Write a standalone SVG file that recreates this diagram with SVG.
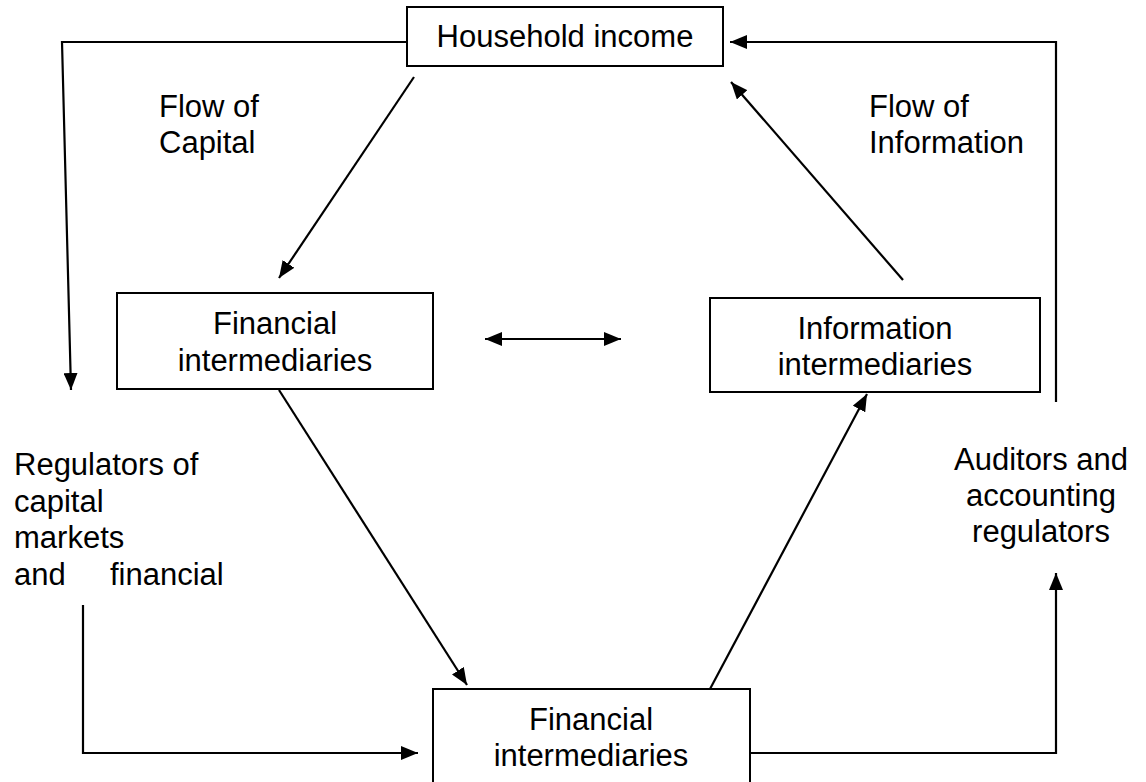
<svg xmlns="http://www.w3.org/2000/svg" width="1146" height="782" viewBox="0 0 1146 782">
  <style>
    .box { fill: #ffffff; stroke: #000000; stroke-width: 2; }
    .lbl { font-family: "Liberation Sans", Arial, sans-serif; font-size: 31px; fill: #000000; }
    .mid { text-anchor: middle; }
    .wire { fill: none; stroke: #000000; stroke-width: 2.2; }
  </style>
  <defs>
    <marker id="tip" viewBox="0 0 17 14" refX="17" refY="7" markerWidth="17" markerHeight="14" markerUnits="userSpaceOnUse" orient="auto-start-reverse">
      <path d="M0,0 L17,7 L0,14 z" fill="#000000"/>
    </marker>
  </defs>

  <rect width="1146" height="782" fill="#ffffff"/>

  <!-- connectors -->
  <g id="connectors">
    <polyline class="wire" points="407,42 62,42 71,390" marker-end="url(#tip)"/>
    <polyline class="wire" points="1056,402 1056,42 730,42" marker-end="url(#tip)"/>
    <line class="wire" x1="414" y1="77" x2="279" y2="278" marker-end="url(#tip)"/>
    <line class="wire" x1="903" y1="280" x2="731" y2="82" marker-end="url(#tip)"/>
    <line class="wire" x1="485" y1="339" x2="621" y2="339" marker-start="url(#tip)" marker-end="url(#tip)"/>
    <line class="wire" x1="279" y1="390" x2="467" y2="685" marker-end="url(#tip)"/>
    <line class="wire" x1="710" y1="689" x2="867" y2="394" marker-end="url(#tip)"/>
    <polyline class="wire" points="83,605 83,753 418,753" marker-end="url(#tip)"/>
    <polyline class="wire" points="750,753 1056,753 1056,573" marker-end="url(#tip)"/>
  </g>

  <!-- nodes -->
  <g id="household-income">
    <rect class="box" x="407" y="7" width="316" height="59"/>
    <text class="lbl mid" x="565" y="47">Household income</text>
  </g>

  <g id="financial-intermediaries-top">
    <rect class="box" x="117" y="293" width="316" height="96"/>
    <text class="lbl mid" x="275" y="334">Financial</text>
    <text class="lbl mid" x="275" y="371">intermediaries</text>
  </g>

  <g id="information-intermediaries">
    <rect class="box" x="710" y="298" width="330" height="94"/>
    <text class="lbl mid" x="875" y="339">Information</text>
    <text class="lbl mid" x="875" y="375">intermediaries</text>
  </g>

  <g id="financial-intermediaries-bottom">
    <rect class="box" x="433" y="689" width="317" height="110"/>
    <text class="lbl mid" x="591" y="730">Financial</text>
    <text class="lbl mid" x="591" y="766">intermediaries</text>
  </g>

  <g id="flow-of-capital">
    <text class="lbl" x="159" y="117">Flow of</text>
    <text class="lbl" x="159" y="153">Capital</text>
  </g>

  <g id="flow-of-information">
    <text class="lbl" x="869" y="117">Flow of</text>
    <text class="lbl" x="869" y="153">Information</text>
  </g>

  <g id="regulators-capital-markets">
    <text class="lbl" x="14" y="475">Regulators of</text>
    <text class="lbl" x="14" y="512">capital</text>
    <text class="lbl" x="14" y="548">markets</text>
    <text class="lbl" x="14" y="585">and</text>
    <text class="lbl" x="110" y="585">financial</text>
  </g>

  <g id="auditors-regulators">
    <text class="lbl mid" x="1041" y="470">Auditors and</text>
    <text class="lbl mid" x="1041" y="506">accounting</text>
    <text class="lbl mid" x="1041" y="542">regulators</text>
  </g>
</svg>
